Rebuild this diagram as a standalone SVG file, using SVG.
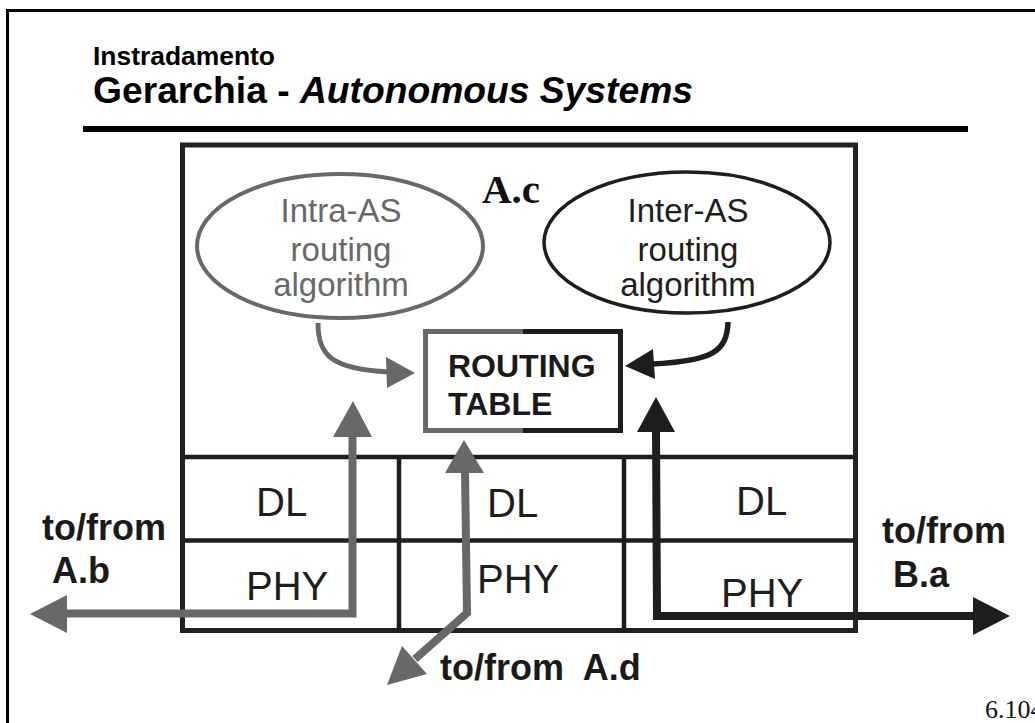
<svg xmlns="http://www.w3.org/2000/svg" width="1035" height="723" viewBox="0 0 1035 723">
<style>
  text{font-family:"Liberation Sans",Arial,Helvetica,sans-serif}
  .b{font-weight:bold}
  .lbl{font-weight:bold;font-size:36px;fill:#1a1a1a}
  .cell{font-size:40px;fill:#1e1e1e}
  .ell{font-size:33px;text-anchor:middle}
  .line{fill:none;stroke:#1e1e1e;stroke-width:4.5}
  .g{fill:none;stroke:#686868;stroke-linejoin:miter}
  .d{fill:none;stroke:#1e1e1e;stroke-linejoin:miter}
  .gf{fill:#686868}
  .df{fill:#1e1e1e}
</style>

<!-- page frame and title -->
<path d="M7.5 723 V10.5 H1035" fill="none" stroke="#000" stroke-width="3"/>
<text x="93" y="65" class="b" font-size="25" textLength="182" lengthAdjust="spacingAndGlyphs">Instradamento</text>
<text x="93" y="103" class="b" font-size="36" textLength="600" lengthAdjust="spacingAndGlyphs">Gerarchia - <tspan font-style="italic">Autonomous Systems</tspan></text>
<line x1="83" y1="129" x2="968" y2="129" stroke="#000" stroke-width="6"/>

<!-- router A.c -->
<g id="router-Ac">
  <rect x="182.5" y="145" width="673" height="485.5" fill="#fff" stroke="#222" stroke-width="5"/>
  <text x="482" y="203" font-family="Liberation Serif,Times New Roman,serif" style="font-family:'Liberation Serif','Times New Roman',serif" font-weight="bold" font-size="41" fill="#111">A.c</text>
</g>

<g id="intra-as">
  <ellipse cx="340" cy="246" rx="143" ry="72" fill="none" stroke="#686868" stroke-width="4"/>
  <text class="ell" fill="#686868"><tspan x="341" y="222">Intra-AS</tspan><tspan x="341" y="261">routing</tspan><tspan x="341" y="296">algorithm</tspan></text>
</g>

<g id="inter-as">
  <ellipse cx="687" cy="242.5" rx="143" ry="70.5" fill="none" stroke="#1e1e1e" stroke-width="3.5"/>
  <text class="ell" fill="#1e1e1e"><tspan x="688" y="222">Inter-AS</tspan><tspan x="688" y="261">routing</tspan><tspan x="688" y="296">algorithm</tspan></text>
</g>

<g id="routing-table">
  <rect x="425.5" y="331.5" width="195" height="99" fill="#fff" stroke="none"/>
  <path d="M523 331.5 H425.5 V430.5 H523" fill="none" stroke="#686868" stroke-width="5"/>
  <path d="M523 331.5 H620.5 V430.5 H523" fill="none" stroke="#1e1e1e" stroke-width="5"/>
  <text class="b" font-size="32" fill="#1a1a1a"><tspan x="448" y="377">ROUTING</tspan><tspan x="448" y="415">TABLE</tspan></text>
</g>

<!-- port grid -->
<g id="ports">
  <line class="line" x1="182.5" y1="457" x2="855.5" y2="457"/>
  <line class="line" x1="182.5" y1="540.5" x2="855.5" y2="540.5"/>
  <line class="line" x1="399" y1="457" x2="399" y2="630.5"/>
  <line class="line" x1="624" y1="457" x2="624" y2="630.5"/>
</g>
<g id="dl-left"><text class="cell" x="256" y="516">DL</text></g>
<g id="phy-left"><text class="cell" x="246" y="600">PHY</text></g>
<g id="dl-mid"><text class="cell" x="487" y="517">DL</text></g>
<g id="phy-mid"><text class="cell" x="477" y="593">PHY</text></g>
<g id="dl-right"><text class="cell" x="736" y="515">DL</text></g>
<g id="phy-right"><text class="cell" x="721" y="607">PHY</text></g>

<!-- external labels -->
<g id="label-Ab"><text class="lbl"><tspan x="42" y="540">to/from</tspan><tspan x="52" y="583">A.b</tspan></text></g>
<g id="label-Ba"><text class="lbl"><tspan x="882" y="543">to/from</tspan><tspan x="893" y="587">B.a</tspan></text></g>
<g id="label-Ad"><text class="lbl" x="440" y="680" style="white-space:pre">to/from  A.d</text></g>
<text x="985" y="718" style="font-family:'Liberation Serif','Times New Roman',serif" font-size="26" fill="#111">6.104</text>

<!-- connectors -->
<g id="connectors">
  <!-- intra -> routing table -->
  <path class="g" stroke-width="5" d="M318 323 C318 356 332 369 389 372"/>
  <polygon class="gf" points="386,357 415,373 387,388"/>
  <!-- inter -> routing table -->
  <path class="d" stroke-width="5.5" d="M728 322 C727 352 712 361 652 364"/>
  <polygon class="df" points="653,349 625,366 655,379"/>
  <!-- A.b <-> routing table -->
  <path class="g" stroke-width="8" d="M352.5 436 V613.5 H66"/>
  <polygon class="gf" points="353,401 333,437 372,437"/>
  <polygon class="gf" points="30,614 67,595 67,633"/>
  <!-- A.d <-> routing table -->
  <path class="g" stroke-width="8" d="M465 472 L467 613 L415 659"/>
  <polygon class="gf" points="464,440 445,473 484,473"/>
  <polygon class="gf" points="387,685 402,646 427,674"/>
  <!-- B.a <-> routing table -->
  <path class="d" stroke-width="8" d="M656 431 L657 616 H974"/>
  <polygon class="df" points="656,397 637,432 675,432"/>
  <polygon class="df" points="1010,616 973,597 973,635"/>
</g>
</svg>
